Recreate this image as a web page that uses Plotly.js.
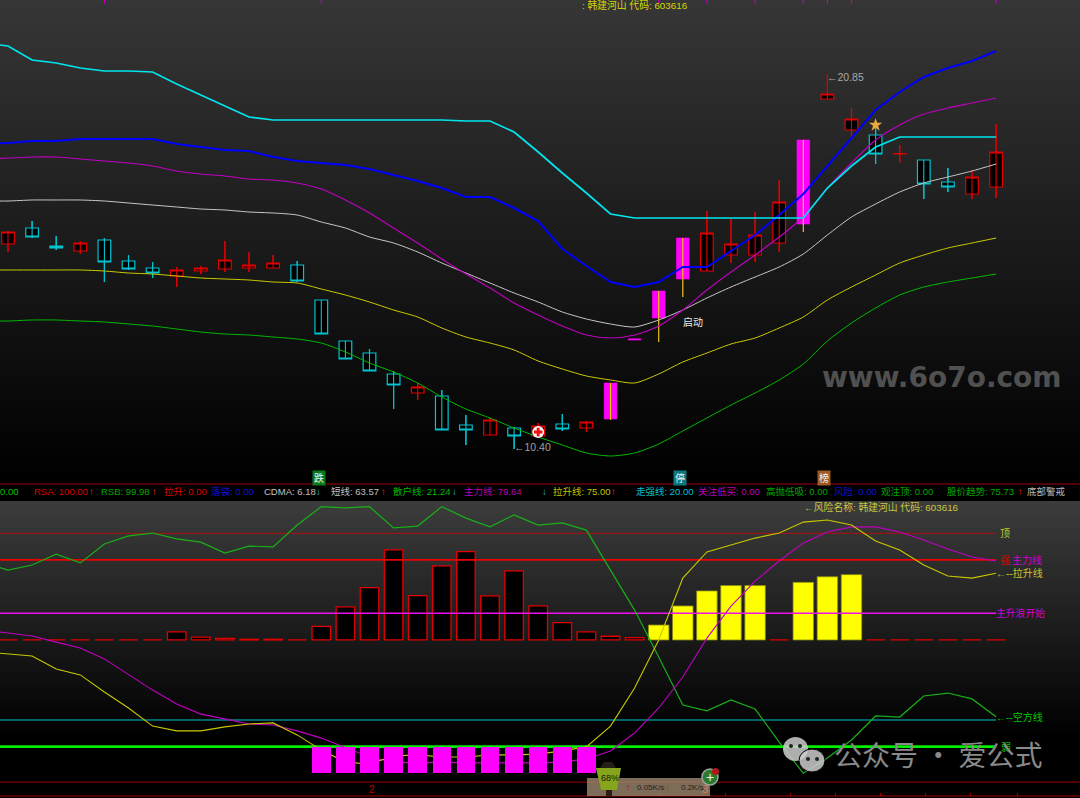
<!DOCTYPE html>
<html><head><meta charset="utf-8">
<script src="https://cdn.plot.ly/plotly-3.0.1.min.js"></script>
<style>html,body{margin:0;padding:0;background:#000;overflow:hidden}#c{width:1080px;height:798px}</style>
</head><body><div id="c"></div>
<script>
// ---------- DATA: candles (price level index) ----------
const barIndex = Array.from({length:42},(_,i)=>i);
const lineIndex = Array.from({length:43},(_,i)=>i-1);
const opens  = [236,252,234,229,240,219,212,204,209,211,212,212,215,180,139,127,106,87,84,55,45,52,44,56,52,61,140,162,201,209,225,225,237,256,381,350,345,326,320,298,286,293];
const closes = [248,243,232,237,218,211,207,210,212,220,215,217,199,146,121,109,95,93,50,50,60,44,54,51,58,97,141,189,242,247,236,245,278,340,386,361,326,326.5,296,293,303,328];
const highs  = [249,259,244,239,242,225,218,213,214,239,228,225,219,180,139,131,109,97,90,65,62,53,57,66,59,97,141,189,242,269,261,268,300,340,406,372,353,335,320,312,310,356];
const lows   = [228,242,230,226,198,210,202,193,206,208,208,212,198,146,121,109,71,80,50,35,45,31,44,49,48,60,140,138,183,209,217,218,228,248,381,340,316,317,281,288,281,282];
const limitUpBars = [25,26,27,28,33];
// ---------- DATA: upper-panel bands ----------
const bandCyan = [437,434,420,417,412,409,409,408,396,385,374,363,360,360,360,360,360,360,360,360,359,359,348,328,307,287,266,262,262,262,262,262,262,262,262,292,314,333,343,343,343,343,343];
const bandBlue = [336,337,339,339,341,341,341,341,336,333,330,329,323,319,317,315,311,305,299,292,283,283,272,259,231,214,198,193,198,213,213,229,245,265,286,314,342,370,388,403,412,419,429];
const bandMagenta = [321,322,323,323,321,319,317,314,309,306,304,301,300,297,291,280,267,252,237,221,206,192,177,165,154,145,142,145,154,170,190,208,225,243,263,292,317,340,355,366,372,377,382];
const bandWhite = [279,279,280,280,280,279,277,275,273,271,270,268,267,265,258,252,243,237,228,217,207,197,187,178,168,161,156,153,160,170,182,193,203,213,226,245,263,276,288,297,303,309,316];
const bandYellow = [210,210,210,210,210,209,207,206,204,202,201,200,198,197,191,185,178,170,163,152,143,137,130,119,111,104,100,97,106,118,127,136,142,152,163,180,193,205,217,225,232,237,242];
const bandGreen = [159,159,160,160,159,158,156,154,151,148,146,145,143,141,137,128,117,108,97,83,71,62,52,43,35,27,24,27,36,49,62,75,87,100,116,139,157,172,185,193,198,202,206];
// ---------- DATA: lower-panel indicator ----------
const retailLine = [79,76.2,78.1,82.2,78.9,86,89,90.1,87.9,86.7,82.6,85.2,84.9,93.1,100,99.5,100,92,92.7,100,95.7,92.4,96.9,93.1,93.9,91.2,76.2,61.2,43.6,25.6,23.4,27.5,24.1,11.7,0,5.7,12.5,21.5,21.1,29,30.1,27.9,21.24];
const mainLine = [53.7,52.6,51.5,49.2,47,42.9,36.9,31.2,26,22.2,20.4,18.5,18.1,15.9,13.2,9.5,6.1,4.2,3.9,4.2,3.9,3.9,3.9,3.9,4.2,5.4,8.4,15.1,24.5,36.1,50.7,62.7,72.1,79.6,86.4,90.5,92.4,92.4,90.5,87.5,84.1,81.1,79.64];
const pullLine = [45.5,44.7,44,39.1,36.9,30.5,24.5,17.7,15.9,15.9,17.4,18.5,18.9,14.4,8.7,4.2,3.5,6.5,6.9,6.1,6.1,6.9,6.9,7.2,8.4,9.9,17.7,32,50,73.2,83,85.6,88.2,90.1,94.2,95,93.1,87.1,83.7,78.1,74,73.2,75];
const redBars = [0,0,0,0,0,0,0,3,1.1,0.6,0.25,0.25,0,5.1,12.4,19.6,33.75,16.6,27.75,33.1,16.5,25.9,12.75,6.5,3,1.4,0.9,null,null,null,null,null,0,null,null,null,0,0,0,0,0,0];
const yellowBars = [null,null,null,null,null,null,null,null,null,null,null,null,null,null,null,null,null,null,null,null,null,null,null,null,null,null,null,5.6,12.75,18.4,20.4,20.4,null,21.6,23.7,24.5,null,null,null,null,null,null];
const weakBars = [null,null,null,null,null,null,null,null,null,null,null,null,null,10,10,10,10,10,10,10,10,10,10,10,10,null,null,null,null,null,null,null,null,null,null,null,null,null,null,null,null,null];
const barBase = 50;
const levelTop = 90, levelStrong = 80, levelRise = 60, levelAir = 20, levelWeak = 10, levelFloor = -3.3;
const levelSpan = [-1,41];
const topTicks = [4,13,27,29,31,33,34,35,41];

// ---------- TEXT ----------
const statusItems = [
 ['0.00','#00c000',-1],['RSA: 100.00','#d80000',33],['↑','#ff2020',88],['RSB: 99.98','#00a800',100],['↑','#ff2020',151],
 ['拉升: 0.00','#d80000',163],['落袋: 0.00','#1010d8',210],['CDMA: 6.18','#c0c0c0',263],['↓','#20c0d8',315],
 ['短线: 63.57','#c0c0c0',330],['↑','#ff2020',380],['散户线: 21.24','#00b800',392],['↓','#20c0d8',451],
 ['主力线: 79.64','#b800b8',463],['↓','#20c0d8',541],['拉升线: 75.00','#c0c000',552],['↑','#ff2020',610],
 ['走强线: 20.00','#00c0d0',635],['关注低买: 0.00','#b800b8',697],['高抛低吸: 0.00','#00a800',765],
 ['风险: 0.00','#1010d0',833],['观注顶: 0.00','#00a800',880],['股价趋势: 75.73','#00a800',946],['↑','#ff2020',1017],
 ['底部警戒','#b8b8b8',1026]
];
const labelItems = [
 [': 韩建河山 代码: 603616','#d8d800',581,5,9.8],
 ['←风险名称: 韩建河山 代码: 603616','#c8c840',803,507,9.8],
 ['←20.85','#a8a8a8',826,77,10.5],['←10.40','#a0a0a0',513,447,10.5],['启动','#e8e8e8',682,322,10],
 ['顶','#c8c830',999,533,10],['强','#e00000',999,560,10],['主力线','#d000d0',1011,560,10],
 ['←--拉升线','#c8c830',995,573,10],['主升浪开始','#d000d0',995,613,9.8],['←--空方线','#00c800',995,717,10],
 ['弱','#00c800',1000,747,10],['2','#c00000',368,789,10],['3','#d08070',701,789,11]
];
const badgeItems = [['跌','#0a7a18',319],['停','#0a7a80',680],['榜','#a05a20',824]];
const bottomTicks = [660,725,790,835,880,925,970,1017];

// ---------- helpers (pixels of the page to paper fractions) ----------
const W=1080,H=798;
const px=x=>x/W, py=y=>1-y/H;
const font=(size,color)=>({family:'"Liberation Sans","Noto Sans CJK SC",sans-serif',size:size,color:color});
const note=(t,c,x,y,s)=>({text:t,xref:'paper',yref:'paper',x:px(x),y:py(y),xanchor:'left',yanchor:'middle',showarrow:false,borderpad:0,font:font(s,c)});

// ---------- traces ----------
const isLimit=i=>limitUpBars.includes(i);
const pick=(a,f)=>a.filter((_,i)=>f(i));
const ordinary=i=>!isLimit(i);
const wicks=(test)=>{const xs=[],ys=[];barIndex.forEach(i=>{if(test(i)){xs.push(i,i,null);ys.push(lows[i],highs[i],null);}});return {x:xs,y:ys};};
const lineTrace=(y,color,w,ax,smooth)=>({type:'scatter',mode:'lines',x:lineIndex,y:y,line:{color:color,width:w,shape:smooth?'spline':'linear',smoothing:0.7},xaxis:ax?'x2':'x',yaxis:ax?'y2':'y',hoverinfo:'skip'});
const hline=(v,color,w)=>({type:'scatter',mode:'lines',x:levelSpan,y:[v,v],line:{color:color,width:w},xaxis:'x2',yaxis:'y2',hoverinfo:'skip'});
const wickLine=(test,color)=>{const k=wicks(test);return {type:'scatter',mode:'lines',x:k.x,y:k.y,connectgaps:false,line:{color:color,width:1.1},xaxis:'x',yaxis:'y',hoverinfo:'skip'};};
const traces=[
 {type:'candlestick',x:pick(barIndex,ordinary),open:pick(opens,ordinary),high:pick(highs,ordinary),low:pick(lows,ordinary),close:pick(closes,ordinary),
  increasing:{line:{color:'#e00000',width:1.2},fillcolor:'#000'},decreasing:{line:{color:'#00c4d0',width:1.2},fillcolor:'#000'},whiskerwidth:0,xaxis:'x',yaxis:'y',hoverinfo:'skip'},
 {type:'candlestick',x:pick(barIndex,isLimit),open:pick(opens,isLimit),high:pick(highs,isLimit),low:pick(lows,isLimit),close:pick(closes,isLimit),
  increasing:{line:{color:'#ff00ff',width:0.6},fillcolor:'#ff00ff'},decreasing:{line:{color:'#ff00ff',width:0.6},fillcolor:'#ff00ff'},whiskerwidth:0,xaxis:'x',yaxis:'y',hoverinfo:'skip'},
 wickLine(i=>ordinary(i)&&closes[i]>=opens[i],'#e00000'),
 wickLine(i=>ordinary(i)&&closes[i]<opens[i],'#00c4d0'),
 wickLine(i=>isLimit(i)&&i!==26,'#e8d000'),
 lineTrace(bandGreen,'#00bb00',1,false,true),
 lineTrace(bandYellow,'#cccc00',1,false,true),
 lineTrace(bandWhite,'#c8c8c8',1,false,true),
 lineTrace(bandMagenta,'#c000c0',1.1,false,true),
 lineTrace(bandBlue,'#0000ff',2),
 lineTrace(bandCyan,'#00e6ee',1.7),
 {type:'scatter',mode:'markers',x:[22],y:[48],marker:{symbol:'circle',size:12,color:'#f4f0f0'},xaxis:'x',yaxis:'y',hoverinfo:'skip'},
 {type:'scatter',mode:'markers',x:[22],y:[48],marker:{symbol:'cross',size:7,color:'#f01010'},xaxis:'x',yaxis:'y',hoverinfo:'skip'},
 {type:'scatter',mode:'markers',x:[36],y:[355],marker:{symbol:'star',size:10,color:'#e8a83c'},xaxis:'x',yaxis:'y',hoverinfo:'skip'},
 {type:'scatter',mode:'markers',x:topTicks,y:topTicks.map(()=>480),marker:{symbol:'line-ns',size:5,line:{color:'#c000c0',width:1.2}},xaxis:'x',yaxis:'y',hoverinfo:'skip'},
 {type:'bar',x:barIndex,y:redBars,base:barBase,width:0.77,marker:{color:'#000',line:{color:'#e00000',width:1.3}},xaxis:'x2',yaxis:'y2',hoverinfo:'skip'},
 {type:'bar',x:barIndex,y:yellowBars,base:barBase,width:0.85,marker:{color:'#ffff00',line:{color:'#8a8a10',width:0.8}},xaxis:'x2',yaxis:'y2',hoverinfo:'skip'},
 hline(levelTop,'#b01010',1),hline(levelStrong,'#ee0000',1.8),hline(levelRise,'#ee10ee',1.6),hline(levelAir,'#00c4c8',1.1),hline(levelWeak,'#00ee00',2.6),
 lineTrace(retailLine,'#18b018',1.2,true),
 lineTrace(mainLine,'#c000c0',1.1,true),
 lineTrace(pullLine,'#c8c800',1.1,true),
 {type:'scatter',mode:'lines',x:[-1,45],y:[levelFloor,levelFloor],line:{color:'#a00000',width:1},xaxis:'x2',yaxis:'y2',hoverinfo:'skip'},
 {type:'bar',x:barIndex,y:weakBars,base:0,width:0.77,marker:{color:'#ff00ff',line:{width:0}},xaxis:'x2',yaxis:'y3',hoverinfo:'skip'}
];

// ---------- background & decoration ----------
const shapes=[];
const band=(y0,y1,top,zero)=>{for(let y=y0;y<y1;y+=3){const g=Math.max(0,Math.round(top*(1-(y-y0)/(zero-y0))));
 shapes.push({type:'rect',xref:'paper',yref:'paper',x0:0,x1:1,y0:py(y+3),y1:py(y),fillcolor:`rgb(${g},${g},${g})`,line:{width:0},layer:'below'});}};
band(0,484,54,475);
band(501,798,60,735);
const rect=(x0,y0,x1,y1,fill,extra)=>Object.assign({type:'rect',xref:'paper',yref:'paper',x0:px(x0),x1:px(x1),y0:py(y1),y1:py(y0),fillcolor:fill,line:{width:0},layer:'above'},extra||{});
const disc=(x0,y0,x1,y1,fill,extra)=>rect(x0,y0,x1,y1,fill,Object.assign({type:'circle'},extra||{}));
const poly=(pts,fill)=>({type:'path',xref:'paper',yref:'paper',path:'M'+pts.map(p=>px(p[0])+' '+py(p[1])).join(' L')+' Z',fillcolor:fill,line:{width:0},layer:'above'});
shapes.push(
 rect(0,483.6,1080,484.6,'#a00010'),
 rect(0,795.5,1080,796.5,'#a00000'),
 ...bottomTicks.map(x=>rect(x,793,x+1,796,'#a00000')),
 rect(587,778,710,796,'rgba(160,138,112,0.78)'),
 poly([[604,762],[612,762],[616,768],[600,768]],'#242018'),
 poly([[596,768],[621,768],[617,790],[601,790]],'#86a41c'),
 rect(606,790,612,796,'#2a2018'),
 disc(702,769,718,785,'#2c7a30',{line:{color:'#9aa8a0',width:1.5}}),
 disc(712,768,719,775,'#b01818'),
 disc(783,737,808,761,'rgba(205,205,205,0.85)'),
 disc(799,749,825,772,'rgba(205,205,205,0.85)',{line:{color:'#000',width:1}}),
 disc(789,744,793,748,'#222'),disc(798,744,802,748,'#222'),
 disc(806,757,810,761,'#222'),disc(815,757,819,761,'#222')
);

const annotations=[
 ...statusItems.map(s=>note(s[0],s[1],s[2],491.5,9.5)),
 ...labelItems.map(s=>note(s[0],s[1],s[2],s[3],s[4])),
 ...badgeItems.map(b=>Object.assign(note(b[0],'#f0f0f0',b[2],477.5,10),{xanchor:'center',bgcolor:b[1],borderpad:1})),
 {text:'www.6o7o.com',xref:'paper',yref:'paper',x:px(942),y:py(378),xanchor:'center',yanchor:'middle',showarrow:false,
  font:{family:'"DejaVu Sans",sans-serif',size:28,color:'#505050',weight:700}},
 {text:'公众号 · 爱公式',xref:'paper',yref:'paper',x:px(832),y:py(754),xanchor:'left',yanchor:'middle',showarrow:false,
  font:{family:'"Noto Sans CJK SC",sans-serif',size:28,color:'#8a8a8a'}},
 note('68%','#181810',600,778,9),
 note('↑','#a01010',625,787,9),note('0.05K/s','#222',636,787,8),
 note('↓','#307020',664,787,9),note('0.2K/s','#222',680,787,8),
 Object.assign(note('+','#e8f0e8',710,777,14),{xanchor:'center'})
];
const xr=[(0-8)/24.1,(1080-8)/24.1];
const hidden={showgrid:false,zeroline:false,showticklabels:false,ticks:'',showline:false,fixedrange:true};
const yr2=[-9.26,102.11];
const layout={width:W,height:H,autosize:false,margin:{l:0,r:0,t:0,b:0,pad:0},paper_bgcolor:'#000',plot_bgcolor:'rgba(0,0,0,0)',showlegend:false,
 boxgap:0.25,boxmode:'overlay',barmode:'overlay',bargap:0,
 xaxis:Object.assign({},hidden,{range:xr,rangeslider:{visible:false},anchor:'y',domain:[0,1]}),
 yaxis:Object.assign({},hidden,{range:[-4,480],domain:[1-484/H,1],anchor:'x'}),
 xaxis2:Object.assign({},hidden,{range:xr,anchor:'y2',domain:[0,1]}),
 yaxis2:Object.assign({},hidden,{range:yr2,domain:[0,1-501/H],anchor:'x2'}),
 yaxis3:Object.assign({},hidden,{range:yr2,overlaying:'y2',anchor:'x2'}),
 shapes:shapes,annotations:annotations,hovermode:false,dragmode:false};
Plotly.newPlot('c',traces,layout,{displayModeBar:false,staticPlot:true});
</script></body></html>
